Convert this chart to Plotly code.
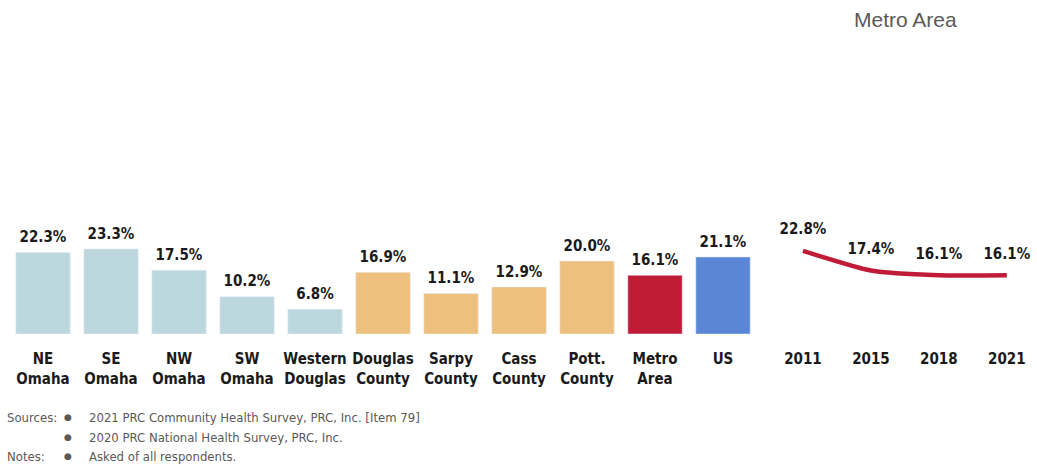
import plotly.graph_objects as go

categories = ["NE<br>Omaha", "SE<br>Omaha", "NW<br>Omaha", "SW<br>Omaha", "Western<br>Douglas",
              "Douglas<br>County", "Sarpy<br>County", "Cass<br>County", "Pott.<br>County",
              "Metro<br>Area", "US"]
values = [22.3, 23.3, 17.5, 10.2, 6.8, 16.9, 11.1, 12.9, 20.0, 16.1, 21.1]
bar_colors = ["#BDD7DE"] * 5 + ["#EDC07F"] * 4 + ["#C01C37", "#5B86D6"]

years = ["2011", "2015", "2018", "2021"]
trend = [22.8, 17.4, 16.1, 16.1]

W, H = 1037, 466
FONT = "DejaVu Sans Condensed, Liberation Sans Narrow, Arial Narrow, sans-serif"

base_px = 334
px_per = 3.65
ymax = 60
y_dom = [(H - base_px) / H, (H - (base_px - ymax * px_per)) / H]

def b(s):
    return "<b>" + s.replace("<br>", "</b><br><b>") + "</b>"

fig = go.Figure()
fig.add_trace(go.Bar(
    x=list(range(len(categories))), y=values, marker_color=bar_colors, width=0.8,
    xaxis="x", yaxis="y", showlegend=False, hoverinfo="skip"))
fig.add_trace(go.Scatter(
    x=list(range(len(categories))), y=values, mode="markers+text",
    marker=dict(size=9, color="rgba(0,0,0,0)"),
    text=[b(f"{v:.1f}%") for v in values], textposition="top center", cliponaxis=False,
    textfont=dict(family=FONT, size=15, color="#1a1a1a"),
    xaxis="x", yaxis="y", showlegend=False, hoverinfo="skip"))
fig.add_trace(go.Scatter(
    x=list(range(len(years))), y=trend, mode="lines+markers+text",
    line=dict(color="#C01C37", width=4.5, shape="spline", smoothing=0.6),
    marker=dict(size=19, color="rgba(0,0,0,0)"),
    text=[b(f"{v:.1f}%") for v in trend], textposition="top center", cliponaxis=False,
    textfont=dict(family=FONT, size=15, color="#1a1a1a"),
    xaxis="x2", yaxis="y2", showlegend=False, hoverinfo="skip"))

x1_dom = [9 / W, 757 / W]
x2_dom = [769 / W, 1034 / W]
fig.update_layout(
    width=W, height=H, margin=dict(l=0, r=0, t=0, b=0),
    paper_bgcolor="white", plot_bgcolor="white",
    bargap=0.2,
    xaxis=dict(domain=x1_dom, range=[-0.5, 10.5], tickmode="array",
               tickvals=list(range(len(categories))), ticktext=[b(c) for c in categories],
               tickfont=dict(family=FONT, size=15, color="#1a1a1a"), tickangle=0,
               showgrid=False, zeroline=False, showline=False, ticks="",
               ticklabelstandoff=14),
    yaxis=dict(domain=y_dom, range=[0, ymax], visible=False),
    xaxis2=dict(domain=x2_dom, range=[-0.5, 3.4], tickmode="array",
                tickvals=list(range(len(years))), ticktext=[b(y) for y in years],
                tickfont=dict(family=FONT, size=15, color="#1a1a1a"), tickangle=0,
                showgrid=False, zeroline=False, showline=False, ticks="",
                ticklabelstandoff=14, anchor="y2"),
    yaxis2=dict(domain=y_dom, range=[0, ymax], visible=False, anchor="x2"),
)

fig.add_annotation(text="Metro Area", x=906 / W, y=1 - 19 / H, xref="paper", yref="paper",
                   showarrow=False, xanchor="center", yanchor="middle",
                   font=dict(family="Liberation Sans, Arial, sans-serif", size=21, color="#595959"))

foot_font = dict(family=FONT, size=13, color="#595959")
foot = [
    (417, "Sources:", "2021 PRC Community Health Survey, PRC, Inc. [Item 79]"),
    (437, "", "2020 PRC National Health Survey, PRC, Inc."),
    (456, "Notes:", "Asked of all respondents."),
]
for yy, lab, txt in foot:
    if lab:
        fig.add_annotation(text=lab, x=5 / W, y=1 - yy / H, xref="paper", yref="paper",
                           showarrow=False, xanchor="left", yanchor="middle", font=foot_font)
    fig.add_annotation(text="●", x=68 / W, y=1 - yy / H, xref="paper", yref="paper",
                       showarrow=False, xanchor="center", yanchor="middle",
                       font=dict(family="DejaVu Sans", size=9, color="#595959"))
    fig.add_annotation(text=txt, x=87 / W, y=1 - yy / H, xref="paper", yref="paper",
                       showarrow=False, xanchor="left", yanchor="middle", font=foot_font)

fig.write_html("out.html", config={"displayModeBar": False},
               post_script="document.body.style.margin='0';document.body.style.overflow='hidden';")
